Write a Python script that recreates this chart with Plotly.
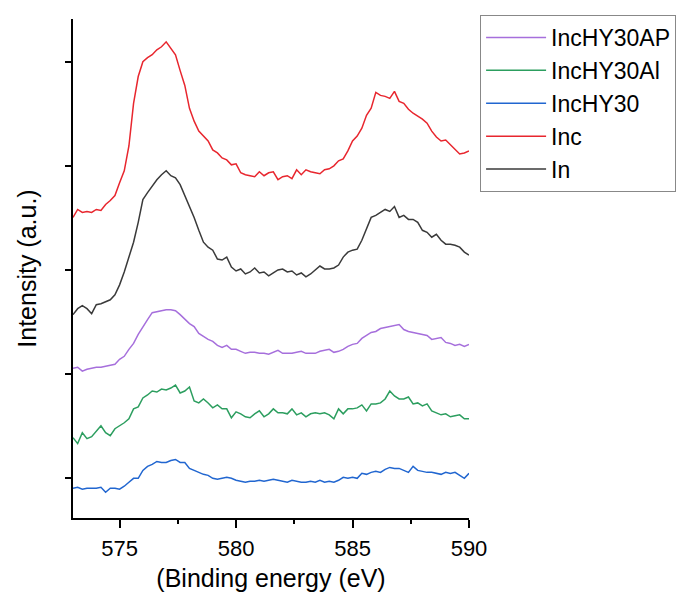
import plotly.graph_objects as go

# Binding energy grid (eV)
energy = [573.0, 573.2, 573.4, 573.6, 573.8, 574.0, 574.2, 574.4, 574.6, 574.8,
          575.0, 575.2, 575.4, 575.6, 575.8, 576.0, 576.2, 576.4, 576.6, 576.8,
          577.0, 577.2, 577.4, 577.6, 577.8, 578.0, 578.2, 578.4, 578.6, 578.8,
          579.0, 579.2, 579.4, 579.6, 579.8, 580.0, 580.2, 580.4, 580.6, 580.8,
          581.0, 581.2, 581.4, 581.6, 581.8, 582.0, 582.2, 582.4, 582.6, 582.8,
          583.0, 583.2, 583.4, 583.6, 583.8, 584.0, 584.2, 584.4, 584.6, 584.8,
          585.0, 585.2, 585.4, 585.6, 585.8, 586.0, 586.2, 586.4, 586.6, 586.8,
          587.0, 587.2, 587.4, 587.6, 587.8, 588.0, 588.2, 588.4, 588.6, 588.8,
          589.0, 589.2, 589.4, 589.6, 589.8, 590.0]

# Stacked intensities (a.u.)
inc = [303, 311, 308, 309, 308, 311, 310, 316, 320, 325,
       338, 350, 375, 418, 445, 460, 464, 467, 472, 475,
       480, 474, 467, 451, 436, 413, 400, 390, 385, 380,
       371, 368, 363, 361, 356, 357, 348, 346, 345, 344,
       349, 345, 348, 349, 341, 344, 345, 342, 351, 346,
       351, 349, 348, 347, 351, 352, 355, 360, 362, 370,
       380, 385, 393, 406, 413, 429, 426, 425, 423, 430,
       420, 418, 412, 408, 405, 402, 398, 390, 384, 380,
       381, 376, 371, 367, 368, 370]

in_ = [205, 211, 214, 211, 206, 215, 216, 218, 220, 225,
       235, 248, 263, 278, 298, 321, 328, 335, 341, 346,
       350, 345, 343, 336, 325, 315, 303, 290, 278, 273,
       270, 261, 260, 263, 253, 249, 251, 246, 248, 252,
       247, 248, 244, 247, 250, 251, 248, 249, 245, 247,
       243, 246, 250, 254, 251, 251, 252, 255, 263, 268,
       270, 271, 280, 291, 303, 305, 308, 311, 309, 314,
       303, 305, 301, 301, 298, 290, 288, 283, 286, 280,
       276, 276, 275, 273, 268, 265]

inchy30ap = [151, 152, 148, 150, 151, 152, 152, 153, 154, 155,
             160, 163, 170, 176, 185, 193, 200, 207, 208, 209,
             210, 210, 209, 205, 200, 196, 193, 186, 183, 180,
             178, 174, 172, 174, 170, 170, 168, 166, 167, 167,
             166, 166, 165, 167, 169, 166, 166, 166, 167, 168,
             166, 166, 166, 168, 169, 170, 167, 168, 170, 173,
             175, 176, 181, 184, 187, 188, 191, 192, 193, 194,
             195, 190, 188, 187, 186, 185, 184, 180, 181, 182,
             177, 176, 174, 175, 173, 175]

inchy30al = [81, 75, 86, 80, 82, 88, 93, 86, 83, 90,
             93, 96, 100, 110, 112, 121, 124, 128, 127, 130,
             129, 131, 134, 126, 128, 132, 118, 116, 120, 116,
             111, 114, 110, 110, 101, 107, 105, 102, 101, 105,
             108, 102, 105, 110, 106, 106, 105, 110, 104, 106,
             102, 105, 106, 105, 106, 104, 100, 110, 105, 110,
             110, 111, 114, 108, 115, 115, 116, 120, 128, 123,
             120, 120, 122, 115, 116, 113, 115, 108, 106, 104,
             105, 102, 103, 104, 100, 100]

inchy30 = [30, 31, 29, 30, 30, 30, 31, 26, 30, 30,
           29, 32, 36, 40, 40, 48, 52, 54, 57, 56,
           56, 58, 59, 56, 56, 50, 48, 46, 44, 43,
           40, 39, 40, 41, 40, 38, 37, 36, 37, 37,
           38, 37, 38, 39, 38, 37, 36, 38, 37, 36,
           36, 37, 36, 38, 36, 37, 36, 38, 41, 40,
           41, 40, 45, 44, 46, 47, 46, 49, 51, 50,
           50, 48, 46, 52, 48, 47, 46, 46, 45, 44,
           46, 45, 46, 43, 40, 45]

series_names = ["IncHY30AP", "IncHY30Al", "IncHY30", "Inc", "In"]
series_values = [inchy30ap, inchy30al, inchy30, inc, in_]
series_colors = ["#a66fdc", "#2c9e5f", "#2166d0", "#e8262e", "#3a3a3a"]

x_ticks = [575, 580, 585, 590]
y_ticks = [40, 145, 250, 355, 460]

FONT = "Liberation Sans, Arial, sans-serif"

fig = go.Figure()
for name, vals, col in zip(series_names, series_values, series_colors):
    fig.add_trace(go.Scatter(x=energy, y=vals, mode="lines", name=name,
                             line=dict(color=col, width=1.5)))

fig.update_layout(
    width=680, height=593,
    margin=dict(l=65, r=219, t=7, b=83),
    plot_bgcolor="white", paper_bgcolor="white",
    font=dict(family=FONT, color="black"),
    showlegend=True,
    legend=dict(x=1.028, y=1.008, xanchor="left", yanchor="top",
                bordercolor="#888888", borderwidth=1,
                font=dict(size=23, family=FONT, color="black"),
                traceorder="normal", itemwidth=60,
                bgcolor="white"),
)

fig.update_xaxes(
    range=[573, 590], tickvals=x_ticks, ticktext=[str(t) for t in x_ticks],
    ticks="outside", ticklen=8, tickwidth=1.5, tickcolor="black",
    showline=True, linecolor="black", linewidth=2, mirror=False,
    showgrid=False, zeroline=False, automargin=False,
    tickfont=dict(size=22, family=FONT), ticklabelstandoff=2,
    minor=dict(tickvals=[577.5, 582.5, 587.5], ticks="outside", ticklen=4,
               tickwidth=1.5, tickcolor="black", showgrid=False),
    title=dict(text="(Binding energy (eV)", font=dict(size=25, family=FONT), standoff=9),
)
fig.update_yaxes(
    range=[0, 503], tickvals=y_ticks, showticklabels=False,
    ticks="outside", ticklen=6, tickwidth=1.5, tickcolor="black",
    showline=True, linecolor="black", linewidth=2, mirror=False,
    showgrid=False, zeroline=False, automargin=False,
    title=dict(text="Intensity (a.u.)", font=dict(size=25, family=FONT), standoff=21),
)

fig.write_html("out.html")
